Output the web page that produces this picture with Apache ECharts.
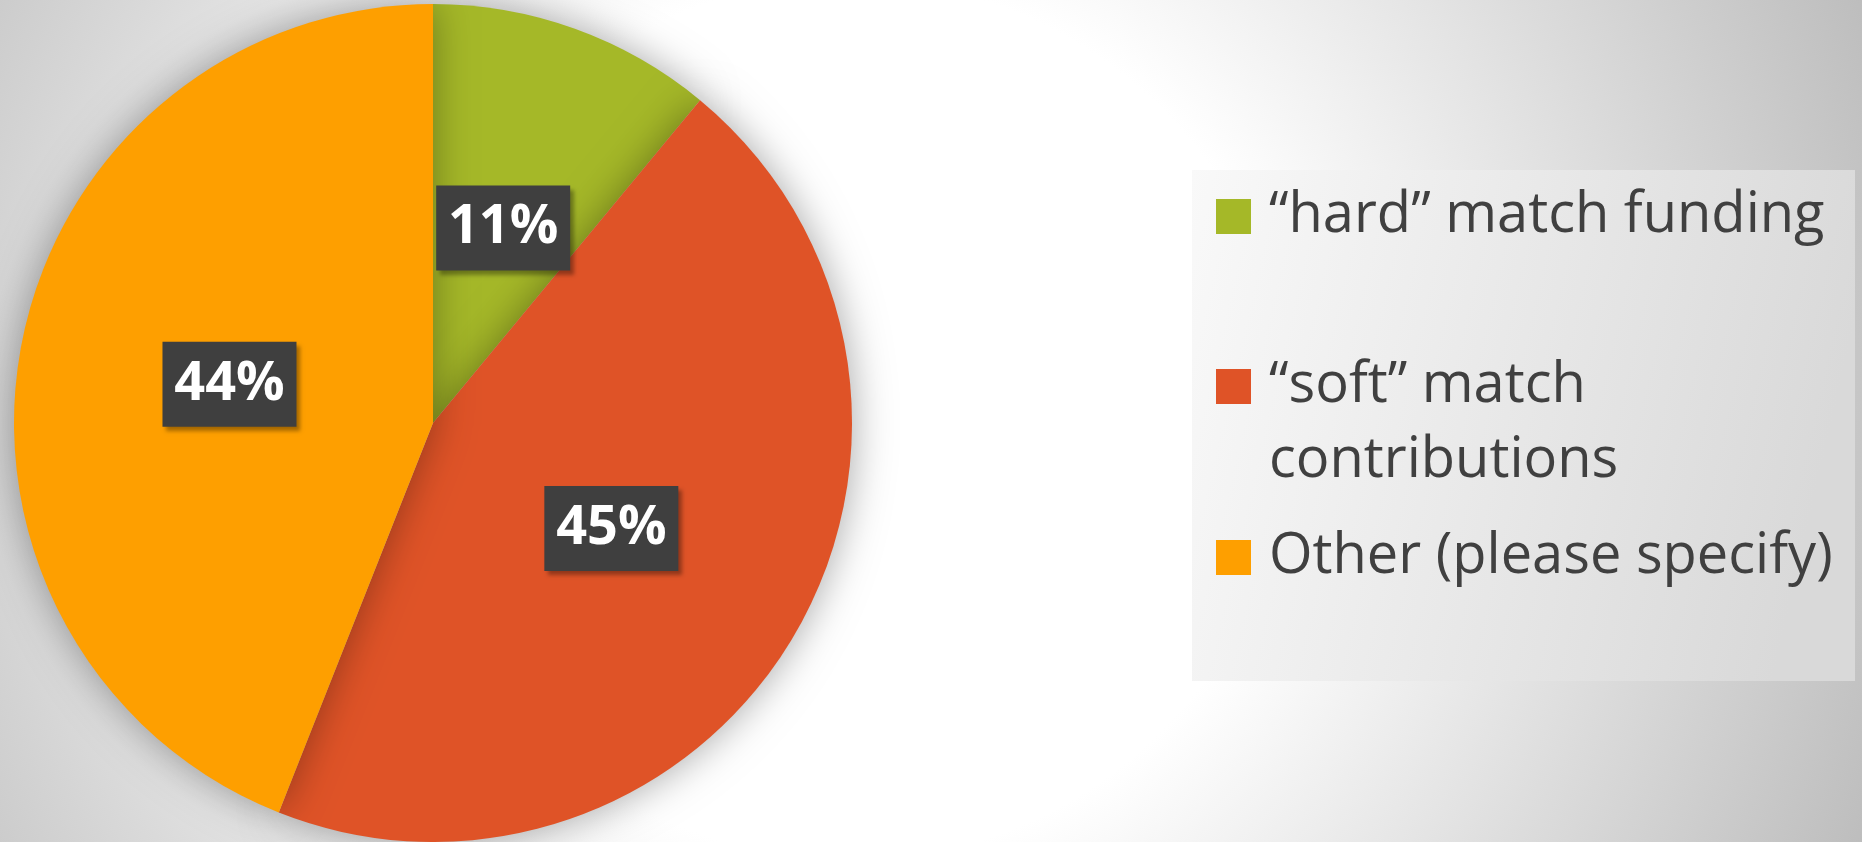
<!DOCTYPE html>
<html>
<head>
<meta charset="utf-8">
<script src="https://cdn.jsdelivr.net/npm/echarts@6/dist/echarts.min.js"></script>
<style>
html,body{margin:0;padding:0;}
#chart{width:1862px;height:842px;}
</style>
</head>
<body>
<div id="chart"></div>
<script>
const categories = ['“hard” match funding', '“soft” match contributions', 'Other (please specify)'];
const values = [11, 45, 44];
const colors = ['#a5b828', '#df5327', '#fe9f00'];
const legendText = ['“hard” match funding', '\n“soft” match\ncontributions', 'Other (please specify)'];

const chart = echarts.init(document.getElementById('chart'));

const pieCenter = [433, 423];
const legendTops = [179, 274, 520];
const legends = categories.map((c, i) => ({
  data: [c],
  orient: 'vertical',
  left: 1216,
  top: legendTops[i],
  padding: 0,
  icon: 'rect',
  itemWidth: 35,
  itemHeight: 35,
  itemGap: 0,
  selectedMode: false,
  formatter: () => legendText[i],
  textStyle: {
    color: '#404040',
    fontFamily: 'Open Sans',
    fontSize: 56,
    lineHeight: 75,
    padding: [0, 0, 0, 13]
  }
}));

chart.setOption({
  backgroundColor: {
    type: 'radial', x: 850, y: 420, r: 1100, global: true,
    colorStops: [
      {offset: 0, color: '#ffffff'},
      {offset: 0.4, color: '#ffffff'},
      {offset: 1, color: '#bdbdbd'}
    ]
  },
  color: colors,
  graphic: [{
    type: 'rect',
    z: -1,
    shape: {x: 1192, y: 170, width: 663, height: 511},
    style: {
      fill: {
        type: 'linear', x: 0, y: 0, x2: 1, y2: 0.3,
        colorStops: [
          {offset: 0, color: '#f9f9f9'},
          {offset: 1, color: '#d9d9d9'}
        ]
      }
    }
  }],
  legend: legends,
  series: [{
    type: 'pie',
    center: pieCenter,
    radius: 419,
    startAngle: 90,
    clockwise: true,
    avoidLabelOverlap: false,
    emphasis: {scale: false},
    itemStyle: {
      shadowBlur: 40,
      shadowColor: 'rgba(0,0,0,0.35)'
    },
    label: {
      show: true,
      position: 'inside',
      formatter: '{c}%',
      color: '#ffffff',
      fontFamily: 'Open Sans',
      fontWeight: 'bold',
      fontSize: 54,
      lineHeight: 52,
      backgroundColor: '#3f3f3f',
      width: 114,
      height: 52,
      align: 'center',
      verticalAlign: 'middle',
      padding: [17, 10, 16, 10],
      shadowColor: 'rgba(0,0,0,0.35)',
      shadowBlur: 4,
      shadowOffsetX: 4,
      shadowOffsetY: 4
    },
    labelLine: {show: false},
    labelLayout: function (params) {
      const r = params.labelRect;
      const cx = r.x + r.width / 2, cy = r.y + r.height / 2;
      const k = 0.975;
      return {
        dx: (cx - pieCenter[0]) * (k - 1),
        dy: (cy - pieCenter[1]) * (k - 1)
      };
    },
    data: categories.map((c, i) => ({name: c, value: values[i]}))
  }]
});
</script>
</body>
</html>
